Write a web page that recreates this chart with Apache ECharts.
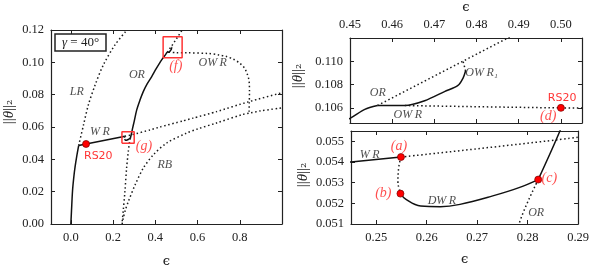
<!DOCTYPE html>
<html><head><meta charset="utf-8">
<script src="https://cdn.jsdelivr.net/npm/echarts@6/dist/echarts.min.js"></script>
<style>html,body{margin:0;padding:0;background:#fff}#c{width:592px;height:276px}</style>
</head><body><div id="c"></div>
<script>
// ---------- data (epsilon, ||theta||_2) ----------
const lrStable = [[0,0],[0.003,0.008],[0.008,0.0206],[0.014,0.029],[0.020,0.0353],[0.028,0.042],[0.037,0.0485]];
const lrUnstable = [[0.037,0.0485],[0.06,0.0613],[0.083,0.0737],[0.115,0.086],[0.154,0.0984],[0.209,0.1108],[0.266,0.12]];
const wrStable = [[0.037,0.0485],[0.072,0.0495],[0.245,0.054],[0.2549,0.05424]];
const wrUnstable = [[0.2549,0.05424],[0.29,0.0552],[0.375,0.0582],[0.422,0.0600],[0.532,0.0638],[0.579,0.0655],[0.69,0.0695],[0.839,0.0755],[1.0,0.0812]];
const abUnstable = [[0.2549,0.05424],[0.2544,0.0536],[0.2543,0.0530],[0.2545,0.05275],[0.2548,0.05247]];
const dwrStable = [[0.2548,0.05247],[0.2559,0.05219],[0.2588,0.05187],[0.2627,0.05184],[0.2666,0.05195],[0.2731,0.05236],[0.2783,0.05276],[0.2821,0.05315]];
const orUnstableLow = [[0.2821,0.05315],[0.2783,0.051],[0.272,0.0448],[0.264,0.0345],[0.256,0.020],[0.248,0.008],[0.242,0]];
const orStable = [[0.2821,0.05315],[0.2864,0.0555],[0.292,0.059],[0.300,0.0635],[0.312,0.0706],[0.327,0.0765],[0.343,0.0819],[0.362,0.0868],[0.383,0.0912],[0.405,0.0962],[0.43,0.1015],[0.45,0.1051],[0.4535,0.10587],[0.4565,0.1062]];
const orUnstableHigh = [[0.4565,0.1062],[0.4874,0.112],[0.527,0.12]];
const owrStable = [[0.4565,0.1062],[0.463,0.1062],[0.4677,0.10661],[0.4724,0.1074],[0.4756,0.10793],[0.4768,0.10856],[0.4774,0.10916]];
const owr1Unstable = [[0.4774,0.10916],[0.4771,0.1096],[0.4768,0.1100]];
const owrUnstable = [[0.463,0.1062],[0.50,0.1060],[0.55,0.1059],[0.65,0.1055],[0.70,0.1046],[0.737,0.1036],[0.77,0.1019],[0.80,0.0995],[0.822,0.0965],[0.834,0.0933],[0.842,0.09],[0.845,0.0871],[0.846,0.082],[0.845,0.075],[0.844,0.0686]];
const rbUnstable = [[0.243,0],[0.248,0.0035],[0.259,0.009],[0.272,0.0138],[0.304,0.0241],[0.343,0.0345],[0.39,0.0427],[0.453,0.05],[0.548,0.0562],[0.6,0.0588],[0.69,0.0625],[0.815,0.0678],[0.847,0.0686],[0.9,0.0700],[1.0,0.0718]];

const rs20Main = [[0.072,0.0495]];
const pointsABC = [[0.2549,0.05424],[0.2548,0.05247],[0.2821,0.05315]];
const rs20Zoom = [[0.500,0.1060]];

const boxF = [0.437,0.527,0.1029,0.1158];
const boxG = [0.242,0.300,0.050,0.0571];

const xTicksMain = [0,0.2,0.4,0.6,0.8];
const yTicksMain = [0,0.02,0.04,0.06,0.08,0.10,0.12];
const xTicksTop = [0.45,0.46,0.47,0.48,0.49,0.50];
const yTicksTop = [0.106,0.108,0.110];
const xTicksBot = [0.25,0.26,0.27,0.28,0.29];
const yTicksBot = [0.051,0.052,0.053,0.054,0.055];

// ---------- annotations (data coords) ----------
const annMain = [
  {value:[0.028,0.0819], name:'LR'},
  {value:[0.313,0.0922], name:'OR'},
  {value:[0.672,0.0995], name:'OW\u2009R'},
  {value:[0.138,0.0571], name:'W\u2009R'},
  {value:[0.445,0.0365], name:'RB'}
];
const annMainRed = [{value:[0.497,0.0974], name:'(f)'},{value:[0.346,0.0483], name:'(g)'}];
const annMainSans = [{value:[0.130,0.0421], name:'RS20'}];
const annTop = [
  {value:[0.4566,0.1073], name:'OR'},
  {value:[0.4637,0.1054], name:'OW\u2009R'},
  {value:[0.4812,0.1090], name:'OW\u2009R\u2081'}
];
const annTopRed = [{value:[0.4970,0.10527], name:'(d)'}];
const annTopSans = [{value:[0.5003,0.1068], name:'RS20'}];
const annBot = [
  {value:[0.2487,0.05437], name:'W\u2009R'},
  {value:[0.2630,0.05213], name:'DW\u2009R'},
  {value:[0.2817,0.05153], name:'OR'}
];
const annBotRed = [
  {value:[0.2545,0.05476], name:'(a)'},
  {value:[0.2514,0.0525], name:'(b)'},
  {value:[0.2843,0.05323], name:'(c)'}
];

const SERIF = 'Liberation Serif';
const INK = '#222';

function axis(gridIndex, position, min, max, ticks, dec, showLabel, name, nameGap) {
  const a = {
    type:'value', gridIndex, position, min, max,
    axisLine:{show:true, onZero:false, lineStyle:{color:INK, width:1.2}},
    axisTick:{show:true, inside:true, length:4, customValues:ticks, lineStyle:{color:INK, width:1}},
    axisLabel:{show:showLabel, customValues:ticks, formatter:v=>v.toFixed(dec),
      fontFamily:SERIF, fontSize:12.5, color:INK, margin:7},
    splitLine:{show:false}
  };
  if (name) {
    a.name = name; a.nameLocation = 'middle'; a.nameGap = nameGap;
    a.nameTextStyle = {fontFamily:'DejaVu Serif', fontSize:13, color:INK};
  }
  return a;
}

const xAxes = [
  axis(0,'bottom',-0.094,1.0,xTicksMain,1,true,'\u03f5',31),
  axis(0,'top',-0.094,1.0,xTicksMain,1,false),
  axis(1,'top',0.45,0.505,xTicksTop,2,true,'\u03f5',24),
  axis(1,'bottom',0.45,0.505,xTicksTop,2,false),
  axis(2,'bottom',0.245,0.29,xTicksBot,2,true,'\u03f5',29),
  axis(2,'top',0.245,0.29,xTicksBot,2,false)
];
const yAxes = [
  axis(0,'left',0,0.12,yTicksMain,2,true),
  axis(0,'right',0,0.12,yTicksMain,2,false),
  axis(1,'left',0.1047,0.112,yTicksTop,3,true),
  axis(1,'right',0.1047,0.112,yTicksTop,3,false),
  axis(2,'left',0.051,0.0555,yTicksBot,3,true),
  axis(2,'right',0.051,0.0555,yTicksBot,3,false)
];

function line(data, g, dotted, smooth) {
  return {type:'line', xAxisIndex:2*g, yAxisIndex:2*g, data, showSymbol:false, symbol:'none',
    smooth: smooth || false, clip:true, silent:true, z:3,
    lineStyle: dotted ? {color:'#1a1a1a', width:1.5, type:[1.5,2.6]} : {color:'#111', width:1.5}};
}
function box(b, g) {
  const d = [[b[0],b[2]],[b[1],b[2]],[b[1],b[3]],[b[0],b[3]],[b[0],b[2]]];
  return {type:'line', xAxisIndex:2*g, yAxisIndex:2*g, data:d, showSymbol:false, symbol:'none',
    clip:true, silent:true, z:4, lineStyle:{color:'#f33', width:1.5}};
}
function dots(data, g) {
  return {type:'scatter', xAxisIndex:2*g, yAxisIndex:2*g, data, symbolSize:7, z:6,
    itemStyle:{color:'#f00', borderColor:'#700', borderWidth:0.7, opacity:1}};
}
function labels(data, g, kind) {
  const st = kind === 'red' ? {fontFamily:SERIF, fontStyle:'italic', fontSize:14, color:'#f22'}
           : kind === 'sans' ? {fontFamily:'DejaVu Sans', fontSize:11, color:'#f00'}
           : {fontFamily:SERIF, fontStyle:'italic', fontSize:12, color:INK};
  return {type:'scatter', xAxisIndex:2*g, yAxisIndex:2*g, data, symbolSize:0, z:7, silent:true,
    label:Object.assign({show:true, position:'inside', formatter:'{b}'}, st)};
}

const curves = [
  [lrStable,false,0.3],[lrUnstable,true,0.3],[wrStable,false,false],[wrUnstable,true,0.2],
  [abUnstable,true,0.5],[dwrStable,false,0.4],[orUnstableLow,true,0.3],[orStable,false,0.3],
  [orUnstableHigh,true,false],[owrStable,false,0.3],[owr1Unstable,true,false],
  [owrUnstable,true,0.3],[rbUnstable,true,0.3]
];
const series = [];
for (let g = 0; g < 3; g++) {
  curves.forEach(c => series.push(line(c[0], g, c[1], c[2])));
}
series.push(box(boxF,0), box(boxG,0));
series.push(dots(rs20Main,0), dots(rs20Zoom,1), dots(pointsABC,2));
series.push(labels(annMain,0,'ink'), labels(annMainRed,0,'red'), labels(annMainSans,0,'sans'));
series.push(labels(annTop,1,'ink'), labels(annTopRed,1,'red'), labels(annTopSans,1,'sans'));
series.push(labels(annBot,2,'ink'), labels(annBotRed,2,'red'));

const yName = (x, y) => ({
  type:'text', x, y, rotation:Math.PI/2, z:10,
  style:{text:'{n|||}{i|\u03b8}{n|||}{s|\u2082}', align:'center', verticalAlign:'middle',
    rich:{n:{fontFamily:SERIF, fontSize:15, fill:INK}, i:{fontFamily:SERIF, fontStyle:'italic', fontSize:15, fill:INK},
          s:{fontFamily:'DejaVu Serif', fontSize:13, fill:INK}}}
});

const chart = echarts.init(document.getElementById('c'), null, {renderer:'canvas'});
chart.setOption({
  animation:false,
  backgroundColor:'#fff',
  grid:[
    {left:51, top:30, width:231, height:194},
    {left:350, top:31, width:232, height:92},
    {left:351, top:131, width:231, height:93}
  ],
  xAxis:xAxes, yAxis:yAxes, series,
  graphic:[
    yName(9,112), yName(298,76), yName(303,175),
    {type:'rect', shape:{x:55, y:34, width:51, height:17}, z:10,
      style:{fill:'#fff', stroke:'#222', lineWidth:1.5}},
    {type:'text', x:80.5, y:43, z:11,
      style:{text:'{i|\u03b3} = 40\u00b0', align:'center', verticalAlign:'middle',
        rich:{i:{fontFamily:SERIF, fontStyle:'italic', fontSize:13, fill:INK}},
        fontFamily:SERIF, fontSize:13, fill:INK}}
  ]
});
</script></body></html>
